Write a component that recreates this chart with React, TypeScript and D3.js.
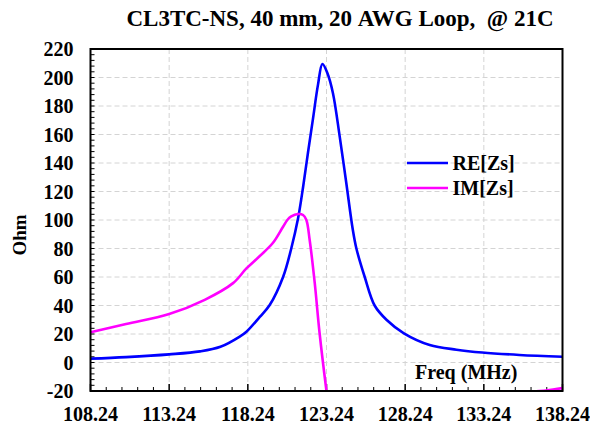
import * as d3 from "d3";

const title = "CL3TC-NS, 40 mm, 20 AWG Loop,  @ 21C";
const xTicks = [108.24, 113.24, 118.24, 123.24, 128.24, 133.24, 138.24];
const yTicks = [-20, 0, 20, 40, 60, 80, 100, 120, 140, 160, 180, 200, 220];

const reFreq = [108.24, 110.5, 113.24, 115.2, 116.5, 117.7, 118.15, 119.0, 119.63, 120.48, 121.0, 121.43, 121.75, 122.06, 122.38, 122.7, 122.98, 123.3, 123.65, 124.08, 124.5, 124.9, 125.14, 125.67, 126.3, 127.05, 128.16, 129.8, 131.5, 133.14, 135.5, 138.24];
const reVals = [2.7, 3.8, 5.7, 7.8, 11, 18, 21.6, 32, 40.3, 60, 80, 101, 123, 147, 171, 195, 209.5, 203, 189, 158.5, 125.8, 94, 80, 60, 40, 30, 20.5, 12.3, 9, 7, 5.3, 4];

const imFreq = [108.24, 110.5, 113.24, 115.5, 117.3, 118.15, 119.0, 119.84, 120.48, 120.75, 121.0, 121.43, 121.75, 121.96, 122.17, 122.49, 122.8, 123.23, 123.6, 125, 130, 135, 136.1, 137.2, 138.24];
const imVals = [21.2, 27, 34, 44, 55.7, 66, 74.7, 84, 95.3, 100, 102.5, 104.2, 103.5, 100, 86, 56, 20.7, -19.3, -50, -80, -45, -24, -20.8, -19.6, -18];

const series = [
  { name: "RE[Zs]", color: "#0000ff", freq: reFreq, vals: reVals },
  { name: "IM[Zs]", color: "#ff00ff", freq: imFreq, vals: imVals },
];

export default function App() {
  const width = 590;
  const height = 428;
  const left = 90.5;
  const right = 562.5;
  const top = 49;
  const bottom = 391;

  const x = d3.scaleLinear().domain([108.24, 138.24]).range([left, right]);
  const y = d3.scaleLinear().domain([-20, 220]).range([bottom, top]);

  const line = d3
    .line<[number, number]>()
    .x((d) => x(d[0]))
    .y((d) => y(d[1]))
    .curve(d3.curveCatmullRom.alpha(0.5));

  const xMinor = d3.range(108.24, 138.25, 1);
  const yMinor = d3.range(-20, 220.1, 4);
  const font = "'Liberation Serif', 'Times New Roman', serif";

  return (
    <svg
      width={width}
      height={height}
      style={{ position: "absolute", left: 0, top: 0, background: "#fff" }}
      fontFamily={font}
      fontWeight="bold"
    >
      <defs>
        <clipPath id="plot">
          <rect x={left} y={top} width={right - left} height={bottom - top} />
        </clipPath>
      </defs>
      <text x={340} y={26} textAnchor="middle" fontSize={23}>
        {title.replace(/ /g, "\u00a0")}
      </text>

      {xTicks.slice(1, -1).map((t) => (
        <line key={"gx" + t} x1={x(t)} x2={x(t)} y1={top} y2={bottom} stroke="#d4d4d4" strokeDasharray="5,3" />
      ))}
      {yTicks.slice(1, -1).map((t) => (
        <line key={"gy" + t} x1={left} x2={right} y1={y(t)} y2={y(t)} stroke="#d4d4d4" strokeDasharray="5,3" />
      ))}

      {yMinor.map((t) => (
        <line key={"ym" + t} x1={left} x2={left + 4} y1={y(t)} y2={y(t)} stroke="#000" />
      ))}
      {xMinor.map((t, i) => (
        <line
          key={"xm" + i}
          x1={x(t)}
          x2={x(t)}
          y1={bottom}
          y2={bottom - (i % 5 === 0 ? 7 : 4)}
          stroke="#000"
          strokeWidth={i % 5 === 0 ? 1.5 : 1}
        />
      ))}

      <g clipPath="url(#plot)">
        {series.map((s) => (
          <path
            key={s.name}
            d={line(s.freq.map((f, i) => [f, s.vals[i]] as [number, number])) || ""}
            fill="none"
            stroke={s.color}
            strokeWidth={2.6}
          />
        ))}
      </g>

      <rect x={left} y={top} width={right - left} height={bottom - top} fill="none" stroke="#000" strokeWidth={2} />

      {yTicks.map((t) => (
        <text key={"yl" + t} x={73.5} y={y(t) + 7} textAnchor="end" fontSize={20}>
          {t}
        </text>
      ))}
      {xTicks.map((t) => (
        <text key={"xl" + t} x={x(t)} y={421} textAnchor="middle" fontSize={20}>
          {t.toFixed(2)}
        </text>
      ))}

      <text x={415} y={379} fontSize={20}>
        Freq (MHz)
      </text>
      <text transform="translate(26,235) rotate(-90)" textAnchor="middle" fontSize={19}>
        Ohm
      </text>

      {series.map((s, i) => (
        <g key={"lg" + s.name}>
          <line x1={407} x2={448} y1={163 + i * 25} y2={163 + i * 25} stroke={s.color} strokeWidth={2.6} />
          <text x={452.5} y={170 + i * 25} fontSize={20}>
            {s.name}
          </text>
        </g>
      ))}
    </svg>
  );
}
